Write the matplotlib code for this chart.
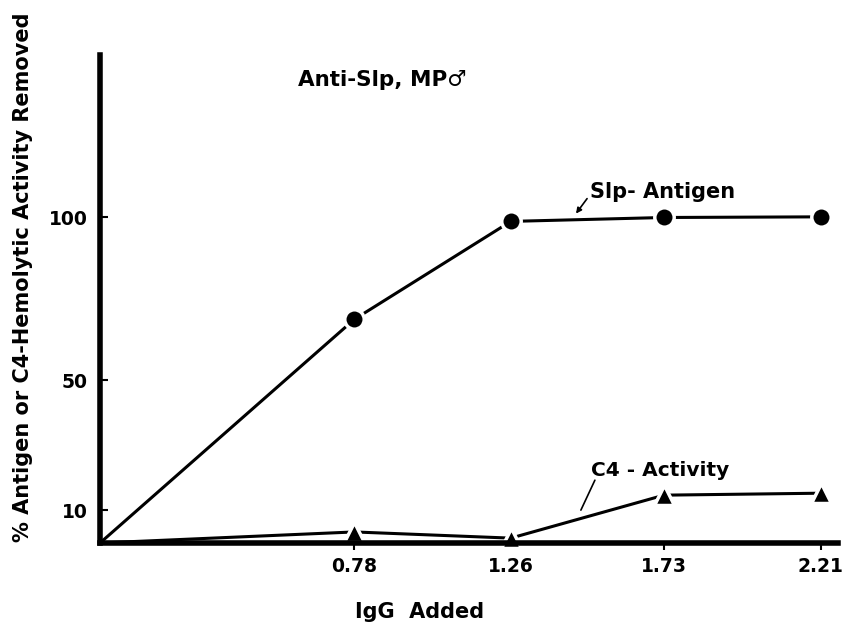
import matplotlib.pyplot as plt

# Datos
igg = [0, 0.78, 1.26, 1.73, 2.21]
slp_antigen = [0, 68.7, 98.8, 100, 100.2]
c4_activity = [0, 3.4, 1.5, 14.7, 15.3]
xticks = [0.78, 1.26, 1.73, 2.21]
xtick_labels = ['0.78', '1.26', '1.73', '2.21']
yticks = [10, 50, 100]

plt.rcParams['font.family'] = ['DejaVu Sans']
plt.rcParams['font.weight'] = 'bold'

fig = plt.figure(figsize=(8.43, 6.22), dpi=100)
ax = fig.add_axes([0.1186, 0.127, 0.876, 0.785])

# Curvas (sin marcador en el origen)
ax.plot(igg, slp_antigen, color='black', lw=2.2, marker='o', ms=14,
        mfc='black', mec='white', mew=2.5, markevery=slice(1, None),
        clip_on=False, zorder=3)
ax.plot(igg, c4_activity, color='black', lw=2.2, marker='^', ms=14,
        mfc='black', mec='white', mew=2.5, markevery=slice(1, None),
        clip_on=False, zorder=3)

ax.set_xlim(0, 2.265)
ax.set_ylim(0, 150)

for s in ['top', 'right']:
    ax.spines[s].set_visible(False)
for s in ['left', 'bottom']:
    ax.spines[s].set_linewidth(4)
    ax.spines[s].set_zorder(4)

ax.set_xticks(xticks)
ax.set_xticklabels(xtick_labels, fontsize=13.5, fontweight='bold')
ax.set_yticks(yticks)
ax.set_yticklabels([str(v) for v in yticks], fontsize=13.5, fontweight='bold')
ax.tick_params(axis='x', direction='out', length=5, width=1.5, pad=5)
ax.tick_params(axis='y', direction='in', length=6, width=1.5, pad=9)

# Etiquetas de ejes
fig.text(420 / 843, 1 - 612 / 622, 'IgG  Added', fontsize=15,
         fontweight='bold', ha='center', va='center')
fig.text(23 / 843, 1 - 277 / 622, '% Antigen or C4-Hemolytic Activity Removed',
         rotation=90, ha='center', va='center', fontsize=15,
         fontweight='bold')

# Textos dentro del gráfico
fig.text(298 / 843, 1 - 80 / 622, 'Anti-Slp, MP♂', fontsize=15.5,
         fontweight='bold', va='center', ha='left')
ax.text(1.503, 107.7, 'Slp- Antigen', fontsize=15, fontweight='bold',
        va='center', ha='left')
ax.annotate('', xy=(1.46, 101.2), xytext=(1.494, 105.8),
            arrowprops=dict(arrowstyle='-|>', color='black', lw=1.2,
                            mutation_scale=8, shrinkA=0, shrinkB=0))
ax.text(1.506, 22.4, 'C4 - Activity', fontsize=14.5, fontweight='bold',
        va='center', ha='left')
ax.annotate('', xy=(1.475, 10.1), xytext=(1.518, 19.3),
            arrowprops=dict(arrowstyle='-', color='black', lw=1.2,
                            shrinkA=0, shrinkB=0))

fig.savefig('out.png', dpi=100)
